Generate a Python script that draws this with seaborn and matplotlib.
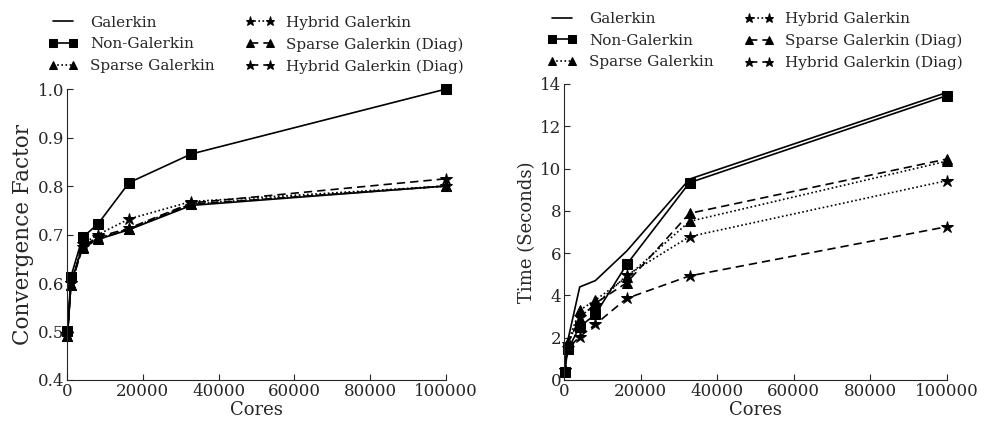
import matplotlib
matplotlib.use("Agg")
import matplotlib.pyplot as plt
import seaborn as sns
import pandas as pd

cores = [128, 1024, 4096, 8192, 16384, 32768, 100000]
series_names = ["Galerkin", "Non-Galerkin", "Sparse Galerkin",
                "Hybrid Galerkin", "Sparse Galerkin (Diag)", "Hybrid Galerkin (Diag)"]

conv_galerkin = [0.49, 0.60, 0.675, 0.69, 0.71, 0.76, 0.80]
conv_nongalerkin = [0.50, 0.613, 0.694, 0.722, 0.807, 0.866, 1.0]
conv_sparse = [0.49, 0.595, 0.675, 0.692, 0.712, 0.763, 0.80]
conv_hybrid = [0.495, 0.60, 0.68, 0.70, 0.732, 0.768, 0.80]
conv_sparse_diag = [0.49, 0.595, 0.672, 0.69, 0.711, 0.762, 0.80]
conv_hybrid_diag = [0.495, 0.60, 0.675, 0.695, 0.713, 0.765, 0.815]

time_galerkin = [0.45, 1.9, 4.4, 4.7, 6.1, 9.5, 13.6]
time_nongalerkin = [0.4, 1.45, 2.52, 3.1, 5.47, 9.33, 13.45]
time_sparse = [0.45, 1.8, 3.3, 3.78, 4.86, 7.5, 10.35]
time_hybrid = [0.45, 1.7, 3.0, 3.55, 4.95, 6.78, 9.43]
time_sparse_diag = [0.45, 1.75, 2.9, 3.63, 4.6, 7.88, 10.45]
time_hybrid_diag = [0.45, 1.5, 2.05, 2.63, 3.86, 4.92, 7.25]

conv_data = [conv_galerkin, conv_nongalerkin, conv_sparse, conv_hybrid,
             conv_sparse_diag, conv_hybrid_diag]
time_data = [time_galerkin, time_nongalerkin, time_sparse, time_hybrid,
             time_sparse_diag, time_hybrid_diag]

dashed = (0, (5, 3))
dotted = (0, (1, 1.5))
styles = [
    dict(linestyle="-", marker=None, markersize=0),
    dict(linestyle="-", marker="s", markersize=7),
    dict(linestyle=dotted, marker="^", markersize=7),
    dict(linestyle=dotted, marker="*", markersize=9),
    dict(linestyle=dashed, marker="^", markersize=7),
    dict(linestyle=dashed, marker="*", markersize=9),
]

sns.set_style("ticks")
plt.rcParams["font.family"] = ["DejaVu Serif"]
plt.rcParams["xtick.direction"] = "in"
plt.rcParams["ytick.direction"] = "in"

fig = plt.figure(figsize=(9.84, 4.26), dpi=100)
ax1 = fig.add_axes([0.0681, 0.108, 0.3852, 0.683])
ax2 = fig.add_axes([0.5732, 0.108, 0.3892, 0.695])


def draw(ax, data, ylabel, ylsize, ylim, yticks, pad):
    for name, vals, st in zip(series_names, data, styles):
        df = pd.DataFrame({"Cores": cores, "val": vals})
        sns.lineplot(data=df, x="Cores", y="val", ax=ax, color="black",
                     linewidth=1.2, markeredgecolor="black",
                     markerfacecolor="black", label=name, clip_on=False,
                     **st)
    ax.set_xlim(0, 100000)
    ax.set_ylim(*ylim)
    ax.set_xticks([0, 20000, 40000, 60000, 80000, 100000])
    ax.set_yticks(yticks)
    ax.set_xlabel("Cores", fontsize=13, labelpad=1)
    ax.set_ylabel(ylabel, fontsize=ylsize, labelpad=3)
    ax.tick_params(labelsize=12, length=4, width=0.8, pad=2,
                   top=False, right=False)
    for s in ["top", "right"]:
        ax.spines[s].set_visible(False)
    ax.legend(loc="lower center", bbox_to_anchor=(0.5, 1.0), ncol=2,
              frameon=False, fontsize=11, handlelength=1.9,
              handletextpad=0.8, columnspacing=2.0, markerscale=0.75,
              numpoints=2, borderaxespad=pad, labelspacing=0.5)


draw(ax1, conv_data, "Convergence Factor", 15.5, (0.4, 1.0),
     [0.4, 0.5, 0.6, 0.7, 0.8, 0.9, 1.0], 0.6)
draw(ax2, time_data, "Time (Seconds)", 13, (0, 14), list(range(0, 15, 2)), 0.5)

fig.savefig("out.png", dpi=100)
